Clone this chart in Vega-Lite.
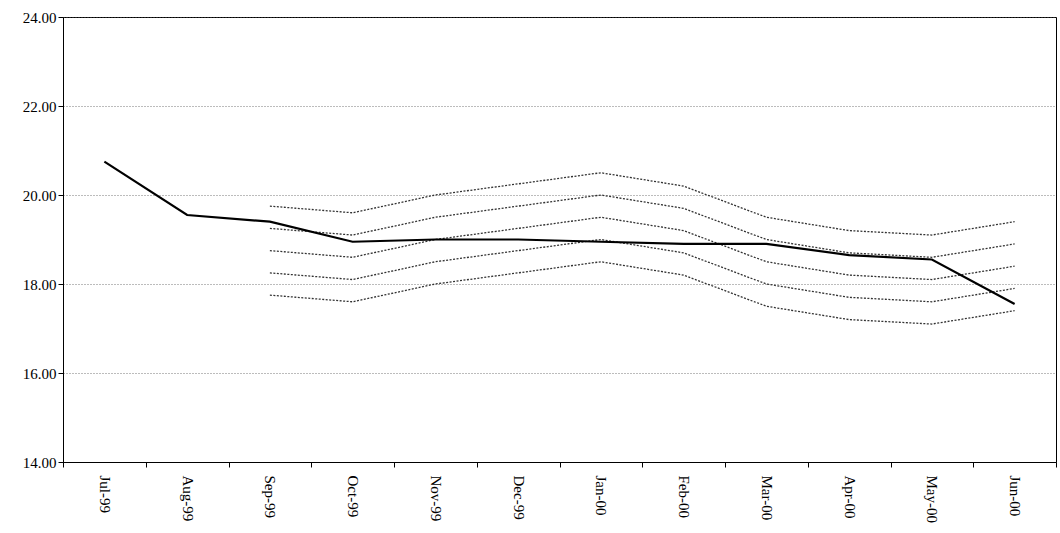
{
  "$schema": "https://vega.github.io/schema/vega-lite/v6.json",
  "width": 1060,
  "height": 533,
  "autosize": {"type": "fit", "contains": "padding"},
  "padding": {"left": 22, "top": 10, "right": 3, "bottom": 10},
  "background": "white",
  "config": {
    "font": "Liberation Serif",
    "view": {"stroke": "#000", "strokeWidth": 1},
    "axis": {"labelFont": "Liberation Serif", "labelFontSize": 15, "labelColor": "#000", "domainColor": "#000", "tickColor": "#000", "title": null}
  },
  "data": {"values": [
    {"m": "Jul-99", "s": "actual", "v": 20.75},
    {"m": "Aug-99", "s": "actual", "v": 19.55},
    {"m": "Sep-99", "s": "actual", "v": 19.4},
    {"m": "Oct-99", "s": "actual", "v": 18.95},
    {"m": "Nov-99", "s": "actual", "v": 19.0},
    {"m": "Dec-99", "s": "actual", "v": 19.0},
    {"m": "Jan-00", "s": "actual", "v": 18.95},
    {"m": "Feb-00", "s": "actual", "v": 18.9},
    {"m": "Mar-00", "s": "actual", "v": 18.9},
    {"m": "Apr-00", "s": "actual", "v": 18.65},
    {"m": "May-00", "s": "actual", "v": 18.55},
    {"m": "Jun-00", "s": "actual", "v": 17.55},
    {"m": "Sep-99", "s": "b1", "v": 19.75},
    {"m": "Oct-99", "s": "b1", "v": 19.6},
    {"m": "Nov-99", "s": "b1", "v": 20.0},
    {"m": "Dec-99", "s": "b1", "v": 20.25},
    {"m": "Jan-00", "s": "b1", "v": 20.5},
    {"m": "Feb-00", "s": "b1", "v": 20.2},
    {"m": "Mar-00", "s": "b1", "v": 19.5},
    {"m": "Apr-00", "s": "b1", "v": 19.2},
    {"m": "May-00", "s": "b1", "v": 19.1},
    {"m": "Jun-00", "s": "b1", "v": 19.4},
    {"m": "Sep-99", "s": "b2", "v": 19.25},
    {"m": "Oct-99", "s": "b2", "v": 19.1},
    {"m": "Nov-99", "s": "b2", "v": 19.5},
    {"m": "Dec-99", "s": "b2", "v": 19.75},
    {"m": "Jan-00", "s": "b2", "v": 20.0},
    {"m": "Feb-00", "s": "b2", "v": 19.7},
    {"m": "Mar-00", "s": "b2", "v": 19.0},
    {"m": "Apr-00", "s": "b2", "v": 18.7},
    {"m": "May-00", "s": "b2", "v": 18.6},
    {"m": "Jun-00", "s": "b2", "v": 18.9},
    {"m": "Sep-99", "s": "b3", "v": 18.75},
    {"m": "Oct-99", "s": "b3", "v": 18.6},
    {"m": "Nov-99", "s": "b3", "v": 19.0},
    {"m": "Dec-99", "s": "b3", "v": 19.25},
    {"m": "Jan-00", "s": "b3", "v": 19.5},
    {"m": "Feb-00", "s": "b3", "v": 19.2},
    {"m": "Mar-00", "s": "b3", "v": 18.5},
    {"m": "Apr-00", "s": "b3", "v": 18.2},
    {"m": "May-00", "s": "b3", "v": 18.1},
    {"m": "Jun-00", "s": "b3", "v": 18.4},
    {"m": "Sep-99", "s": "b4", "v": 18.25},
    {"m": "Oct-99", "s": "b4", "v": 18.1},
    {"m": "Nov-99", "s": "b4", "v": 18.5},
    {"m": "Dec-99", "s": "b4", "v": 18.75},
    {"m": "Jan-00", "s": "b4", "v": 19.0},
    {"m": "Feb-00", "s": "b4", "v": 18.7},
    {"m": "Mar-00", "s": "b4", "v": 18.0},
    {"m": "Apr-00", "s": "b4", "v": 17.7},
    {"m": "May-00", "s": "b4", "v": 17.6},
    {"m": "Jun-00", "s": "b4", "v": 17.9},
    {"m": "Sep-99", "s": "b5", "v": 17.75},
    {"m": "Oct-99", "s": "b5", "v": 17.6},
    {"m": "Nov-99", "s": "b5", "v": 18.0},
    {"m": "Dec-99", "s": "b5", "v": 18.25},
    {"m": "Jan-00", "s": "b5", "v": 18.5},
    {"m": "Feb-00", "s": "b5", "v": 18.2},
    {"m": "Mar-00", "s": "b5", "v": 17.5},
    {"m": "Apr-00", "s": "b5", "v": 17.2},
    {"m": "May-00", "s": "b5", "v": 17.1},
    {"m": "Jun-00", "s": "b5", "v": 17.4}
  ]},
  "encoding": {
    "x": {
      "field": "m", "type": "ordinal",
      "sort": ["Jul-99", "Aug-99", "Sep-99", "Oct-99", "Nov-99", "Dec-99", "Jan-00", "Feb-00", "Mar-00", "Apr-00", "May-00", "Jun-00"],
      "scale": {"type": "band", "paddingInner": 0, "paddingOuter": 0},
      "axis": {"labelAngle": 90, "tickBand": "extent", "grid": false, "labelPadding": 8}
    },
    "y": {
      "field": "v", "type": "quantitative",
      "scale": {"domain": [14, 24], "nice": false},
      "axis": {"values": [14, 16, 18, 20, 22, 24], "format": ".2f", "grid": true, "gridColor": "#555", "gridDash": [1, 2], "gridWidth": 0.8}
    },
    "detail": {"field": "s"}
  },
  "layer": [
    {
      "transform": [{"filter": "datum.s != 'actual'"}],
      "mark": {"type": "line", "color": "#333", "strokeWidth": 1.3, "strokeDash": [2, 1.5]}
    },
    {
      "transform": [{"filter": "datum.s == 'actual'"}],
      "mark": {"type": "line", "color": "#000", "strokeWidth": 2.2}
    }
  ]
}
